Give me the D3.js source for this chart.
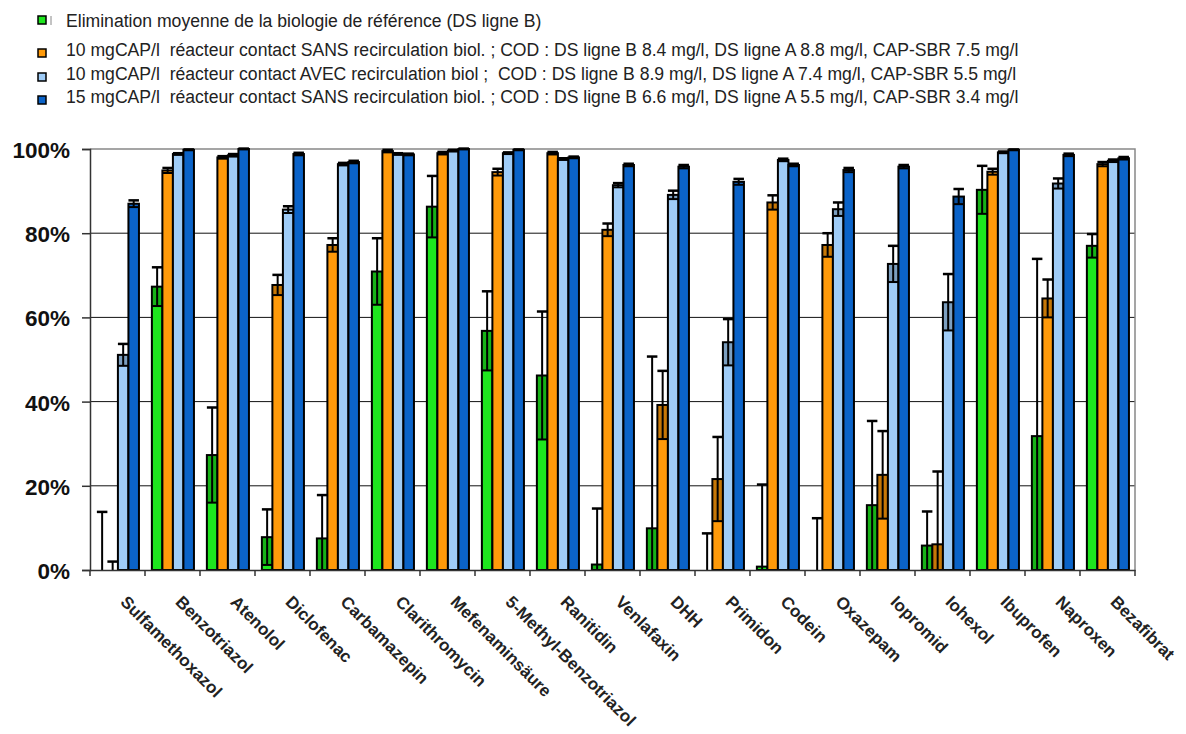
<!DOCTYPE html>
<html><head><meta charset="utf-8">
<script src="https://cdn.jsdelivr.net/npm/d3@7"></script>
<style>body{margin:0;background:#fff}svg{display:block}</style>
</head><body>
<svg id="chart" width="1186" height="734"></svg>
<script>
const categories = ["Sulfamethoxazol","Benzotriazol","Atenolol","Diclofenac","Carbamazepin","Clarithromycin","Mefenaminsäure","5-Methyl-Benzotriazol","Ranitidin","Venlafaxin","DHH","Primidon","Codein","Oxazepam","Iopromid","Iohexol","Ibuprofen","Naproxen","Bezafibrat"];
const seriesNames = [
  "Elimination moyenne de la biologie de référence (DS ligne B)",
  "10 mgCAP/l  réacteur contact SANS recirculation biol. ; COD : DS ligne B 8.4 mg/l, DS ligne A 8.8 mg/l, CAP-SBR 7.5 mg/l",
  "10 mgCAP/l  réacteur contact AVEC recirculation biol ;  COD : DS ligne B 8.9 mg/l, DS ligne A 7.4 mg/l, CAP-SBR 5.5 mg/l",
  "15 mgCAP/l  réacteur contact SANS recirculation biol. ; COD : DS ligne B 6.6 mg/l, DS ligne A 5.5 mg/l, CAP-SBR 3.4 mg/l"
];
const seriesColors = ["#1ee61e","#ff9a0a","#9fccf7","#0b63c8"];
const green = [0, 67.3, 27.3, 7.8, 7.5, 70.9, 86.3, 56.8, 46.2, 1.3, 9.9, 0, 0.8, 0, 15.4, 5.8, 90.3, 31.8, 77.0];
const greenErr = [13.8, 4.6, 11.3, 6.6, 10.3, 7.9, 7.3, 9.4, 15.2, 13.3, 40.8, 8.7, 19.5, 12.3, 20, 8.1, 5.7, 42.1, 2.8];
const orange = [0, 94.9, 98.0, 67.7, 77.2, 99.5, 99.0, 94.5, 99.0, 80.8, 39.2, 21.6, 87.3, 77.2, 22.6, 6.1, 94.6, 64.5, 96.4];
const orangeErr = [2.0, 0.6, 0.3, 2.4, 1.6, 0.3, 0.3, 0.8, 0.3, 1.5, 8.1, 10, 1.7, 2.8, 10.4, 17.3, 0.7, 4.5, 0.5];
const lightBlue = [51.1, 98.8, 98.5, 85.6, 96.4, 98.8, 99.6, 99.0, 97.6, 91.4, 89.1, 54.1, 97.4, 85.7, 72.7, 63.6, 99.2, 91.8, 97.2];
const lightBlueErr = [2.6, 0.2, 0.3, 0.8, 0.3, 0.2, 0.2, 0.2, 0.2, 0.5, 1.0, 5.5, 0.3, 1.6, 4.3, 6.7, 0.2, 1.2, 0.3];
const darkBlue = [87.0, 99.8, 100, 98.8, 96.9, 98.7, 100, 99.8, 98.0, 96.2, 95.8, 92.2, 96.2, 95.0, 95.8, 88.7, 99.8, 98.6, 97.8];
const darkBlueErr = [0.8, 0.1, 0.1, 0.3, 0.3, 0.2, 0.1, 0.1, 0.2, 0.3, 0.4, 0.7, 0.3, 0.5, 0.4, 1.8, 0.1, 0.3, 0.3];
const yTicks = [0, 20, 40, 60, 80, 100];

const values = [green, orange, lightBlue, darkBlue];
const errors = [greenErr, orangeErr, lightBlueErr, darkBlueErr];

const svg = d3.select("#chart");
const m = {left: 90, right: 1135, top: 149, bottom: 570};

const x = d3.scaleBand().domain(categories).range([m.left, m.right]).padding(0);
const xs = d3.scaleBand().domain([0,1,2,3]).range([x.bandwidth()*0.125, x.bandwidth()*0.89]).padding(0);
const y = d3.scaleLinear().domain([0, 100]).range([m.bottom, m.top]);

// gridlines
svg.append("g").selectAll("line").data(yTicks.filter(t => t > 0 && t < 100)).join("line")
  .attr("x1", m.left).attr("x2", m.right).attr("y1", d => y(d)).attr("y2", d => y(d))
  .attr("stroke", "#111").attr("stroke-width", 1);
// frame top/right
svg.append("path").attr("d", `M${m.left},${y(100)}H${m.right}V${m.bottom}`)
  .attr("fill", "none").attr("stroke", "#888").attr("stroke-width", 1.5);

// bars
const groups = svg.append("g").selectAll("g").data(categories).join("g")
  .attr("transform", d => `translate(${x(d)},0)`);
groups.each(function(cat, ci) {
  const g = d3.select(this);
  for (let s = 0; s < 4; s++) {
    const v = values[s][ci], e = errors[s][ci];
    const bx = xs(s), bw = xs.bandwidth();
    if (v > 0) {
      g.append("rect").attr("x", bx).attr("y", y(v)).attr("width", bw).attr("height", y(0) - y(v))
        .attr("fill", seriesColors[s]).attr("stroke", "#000").attr("stroke-width", 2);
      const lo = Math.max(0, v - e);
      if (v - lo > 0.8) {
        g.append("rect").attr("x", bx + 1).attr("y", y(v)).attr("width", bw - 2).attr("height", y(lo) - y(v))
          .attr("fill", "#000").attr("opacity", 0.22);
      }
    }
    const lo = Math.max(0, v - e), hi = v + e;
    const cx = bx + bw / 2;
    g.append("line").attr("x1", cx).attr("x2", cx).attr("y1", y(lo)).attr("y2", y(hi))
      .attr("stroke", "#000").attr("stroke-width", 2);
    g.append("line").attr("x1", bx).attr("x2", bx + bw).attr("y1", y(hi)).attr("y2", y(hi))
      .attr("stroke", "#000").attr("stroke-width", 2.5);
    if (v - e > 0) {
      g.append("line").attr("x1", bx).attr("x2", bx + bw).attr("y1", y(lo)).attr("y2", y(lo))
        .attr("stroke", "#000").attr("stroke-width", 2);
    }
  }
});

// y axis
const yAxis = d3.axisLeft(y).tickValues(yTicks).tickSize(8).tickFormat(d => d + "%");
const ya = svg.append("g").attr("transform", `translate(${m.left},0)`).call(yAxis);
ya.select(".domain").attr("stroke", "#333").attr("stroke-width", 1.5);
ya.selectAll(".tick line").attr("stroke", "#333").attr("stroke-width", 1.5);
ya.selectAll(".tick text").attr("x", -20).attr("dy", "0.38em")
  .style("font-family", "'Liberation Sans', Arial, sans-serif").style("font-weight", "bold")
  .style("font-size", "22.5px").attr("fill", "#111");

// x axis
const xAxis = d3.axisBottom(x).tickSize(0).tickFormat("");
const xa = svg.append("g").attr("transform", `translate(0,${m.bottom})`).call(xAxis);
xa.select(".domain").attr("stroke", "#333").attr("stroke-width", 1.5);
svg.append("g").selectAll("line").data(d3.range(categories.length + 1)).join("line")
  .attr("x1", i => m.left + i * x.step()).attr("x2", i => m.left + i * x.step())
  .attr("y1", m.bottom).attr("y2", m.bottom + 6).attr("stroke", "#333").attr("stroke-width", 1.5);
svg.append("g").selectAll("text").data(categories).join("text")
  .attr("transform", d => `translate(${x(d) + x.bandwidth()/2 + 2},${m.bottom + 33}) rotate(45)`)
  .attr("text-anchor", "start")
  .style("font-family", "'Liberation Sans', Arial, sans-serif").style("font-weight", "bold")
  .style("font-size", "17px").attr("fill", "#222")
  .text(d => d);

// legend
const legendY = [21, 50, 74, 97];
const lg = svg.append("g");
seriesNames.forEach((name, i) => {
  lg.append("rect").attr("x", 38).attr("y", legendY[i] - 4 + (i === 0 ? -1 : 3)).attr("width", 8).attr("height", 8)
    .attr("fill", seriesColors[i]).attr("stroke", "#000").attr("stroke-width", 1.5);
  lg.append("text").attr("x", 66).attr("y", legendY[i]).attr("dy", "0.35em")
    .attr("xml:space", "preserve").style("white-space", "pre")
    .style("font-family", "'Liberation Sans', Arial, sans-serif").style("font-size", "17.6px")
    .attr("fill", "#222").text(name);
});
lg.append("line").attr("x1", 51).attr("x2", 51).attr("y1", legendY[0] - 5).attr("y2", legendY[0] + 4)
  .attr("stroke", "#888").attr("stroke-width", 1);
</script>
</body></html>
